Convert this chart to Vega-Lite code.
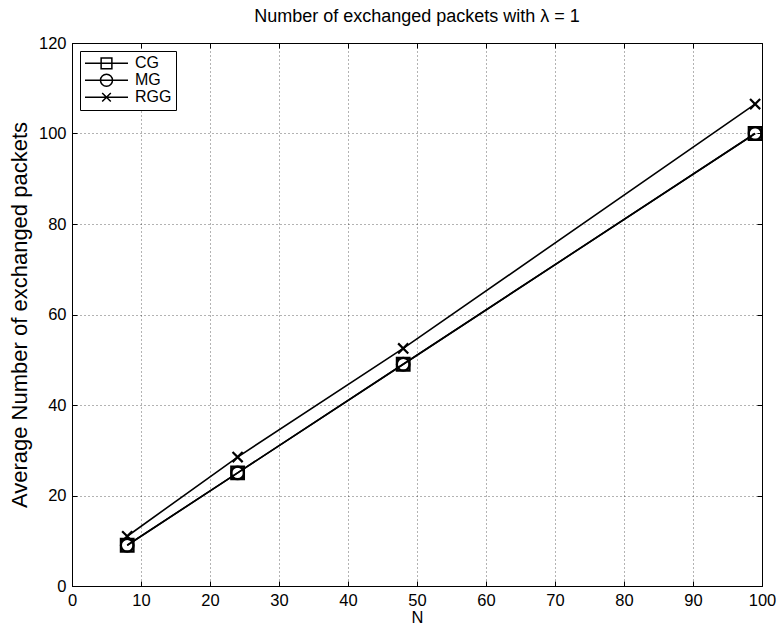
{
  "$schema": "https://vega.github.io/schema/vega-lite/v6.json",
  "width": 690,
  "height": 543,
  "autosize": {"type": "none"},
  "padding": {"left": 72, "top": 43, "right": 17, "bottom": 42},
  "background": "white",
  "title": {
    "text": "Number of exchanged packets with λ = 1",
    "fontSize": 18,
    "fontWeight": "normal",
    "font": "Liberation Sans",
    "color": "black",
    "offset": 9,
    "anchor": "middle"
  },
  "data": {
    "values": [
      {"series": "CG", "N": 8, "value": 9},
      {"series": "CG", "N": 24, "value": 25},
      {"series": "CG", "N": 48, "value": 49},
      {"series": "CG", "N": 99, "value": 100},
      {"series": "MG", "N": 8, "value": 9},
      {"series": "MG", "N": 24, "value": 25},
      {"series": "MG", "N": 48, "value": 49},
      {"series": "MG", "N": 99, "value": 100},
      {"series": "RGG", "N": 8, "value": 11},
      {"series": "RGG", "N": 24, "value": 28.5},
      {"series": "RGG", "N": 48, "value": 52.5},
      {"series": "RGG", "N": 99, "value": 106.5}
    ]
  },
  "layer": [
    {
      "mark": {"type": "line", "color": "black", "strokeWidth": 1.6},
      "encoding": {
        "x": {
          "field": "N", "type": "quantitative",
          "scale": {"domain": [0, 100], "nice": false, "zero": false},
          "axis": {
            "orient": "bottom", "title": "N",
            "values": [0, 10, 20, 30, 40, 50, 60, 70, 80, 90, 100],
            "grid": true, "tickSize": -5, "labelPadding": 11,
            "titlePadding": 1
          }
        },
        "y": {
          "field": "value", "type": "quantitative",
          "scale": {"domain": [0, 120], "nice": false, "zero": false},
          "axis": {
            "orient": "left", "title": "Average Number of exchanged packets",
            "values": [0, 20, 40, 60, 80, 100, 120],
            "grid": true, "tickSize": -5, "labelPadding": 11,
            "titleFontSize": 22, "titlePadding": 7
          }
        },
        "detail": {"field": "series"}
      }
    },
    {
      "mark": {"type": "point", "filled": false, "stroke": "black", "opacity": 1},
      "encoding": {
        "x": {
          "field": "N", "type": "quantitative",
          "axis": {
            "orient": "top", "title": null, "labels": false,
            "values": [0, 10, 20, 30, 40, 50, 60, 70, 80, 90, 100],
            "grid": false, "tickSize": -5, "domain": false
          }
        },
        "y": {
          "field": "value", "type": "quantitative",
          "axis": {
            "orient": "right", "title": null, "labels": false,
            "values": [0, 20, 40, 60, 80, 100, 120],
            "grid": false, "tickSize": -5, "domain": false
          }
        },
        "shape": {
          "field": "series", "type": "nominal",
          "scale": {
            "domain": ["CG", "MG", "RGG"],
            "range": [
              "M-1,-1H1V1H-1Z",
              "M1,0A1,1,0,1,1,-1,0A1,1,0,1,1,1,0Z",
              "M-0.8,-0.8L0.8,0.8M-0.8,0.8L0.8,-0.8"
            ]
          },
          "legend": null
        },
        "strokeWidth": {
          "field": "series", "type": "nominal",
          "scale": {"domain": ["CG", "MG", "RGG"], "range": [2.2, 2.2, 1.5]},
          "legend": null
        },
        "size": {"value": 160}
      }
    },
    {
      "transform": [{"filter": "false"}],
      "mark": {"type": "point", "filled": false, "color": "black", "strokeWidth": 1.5},
      "encoding": {
        "shape": {
          "field": "series", "type": "nominal",
          "scale": {
            "domain": ["CG", "MG", "RGG"],
            "range": [
              "M-1,0H1M-0.25,-0.25H0.25V0.25H-0.25Z",
              "M-1,0H1M0.28,0A0.28,0.28,0,1,1,-0.28,0A0.28,0.28,0,1,1,0.28,0Z",
              "M-1,0H1M-0.2,-0.2L0.2,0.2M-0.2,0.2L0.2,-0.2"
            ]
          },
          "legend": {
            "title": null,
            "orient": "top-left",
            "offset": 8,
            "fillColor": "white",
            "strokeColor": "black",
            "padding": 4,
            "labelFontSize": 16,
            "labelFont": "Liberation Sans",
            "labelColor": "black",
            "labelExpr": "datum.label + '\u00a0\u00a0\u00a0'",
            "symbolSize": 1849,
            "symbolStrokeWidth": 1.5,
            "symbolStrokeColor": "black",
            "symbolFillColor": "transparent",
            "symbolOpacity": 1,
            "clipHeight": 16.5,
            "rowPadding": 0,
            "labelOffset": 6
          }
        }
      }
    }
  ],
  "resolve": {
    "axis": {"x": "independent", "y": "independent"},
    "scale": {"shape": "independent"}
  },
  "config": {
    "font": "Liberation Sans",
    "view": {"stroke": "black", "strokeWidth": 1},
    "axis": {
      "domainColor": "black",
      "tickColor": "black",
      "labelColor": "black",
      "titleColor": "black",
      "labelFontSize": 16.5,
      "titleFontSize": 16.5,
      "titleFontWeight": "normal",
      "labelFont": "Liberation Sans",
      "titleFont": "Liberation Sans",
      "gridColor": "black",
      "gridOpacity": 0.6,
      "gridDash": [1, 3],
      "gridWidth": 1,
      "labelFlush": false,
      "labelOverlap": false
    }
  }
}
